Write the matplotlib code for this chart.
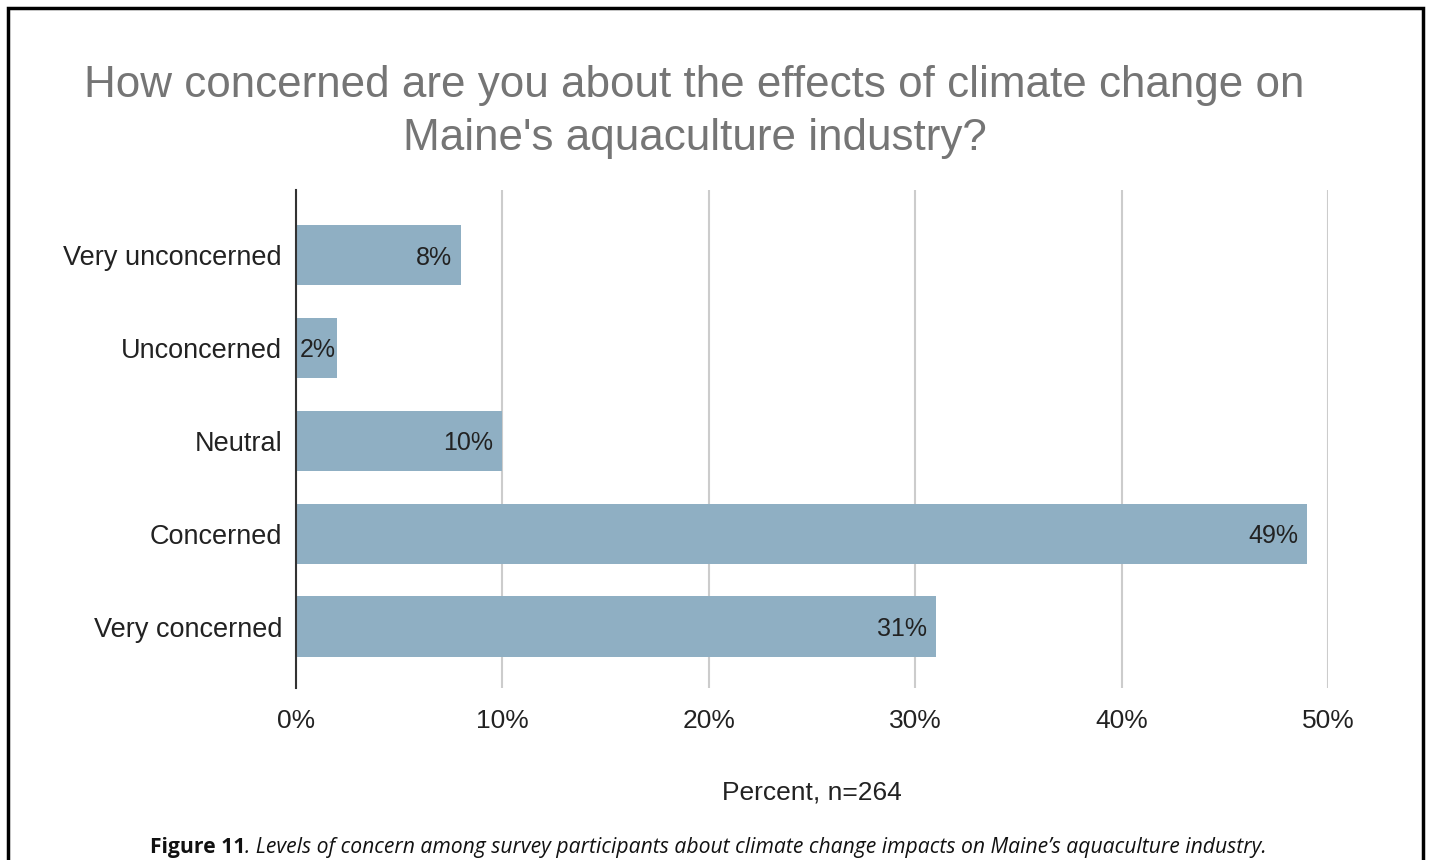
import matplotlib
matplotlib.use('Agg')
import matplotlib.pyplot as plt
from matplotlib.patches import Rectangle

# data
categories = ['Very unconcerned', 'Unconcerned', 'Neutral', 'Concerned', 'Very concerned']
percents = [8, 2, 10, 49, 31]
xticks = [0, 10, 20, 30, 40, 50]

plt.rcParams['font.family'] = ['Liberation Sans', 'DejaVu Sans']

fig = plt.figure(figsize=(14.29, 8.6), dpi=100)
ax = fig.add_axes([0.2071, 0.2, 0.7222, 0.579])

y = list(range(len(categories)))
ax.barh(y, percents, height=0.65, color='#8fafc3', zorder=3)
for yi, v in zip(y, percents):
    if v < 5:
        ax.text(0.2, yi, f'{v}%', ha='left', va='center_baseline', fontsize=18, color='#222222', zorder=4)
    else:
        ax.text(v - 0.45, yi, f'{v}%', ha='right', va='center_baseline', fontsize=18, color='#222222', zorder=4)

ax.set_xlim(0, 50)
ax.set_ylim(4.66, -0.70)
ax.set_yticks(y)
ax.set_yticklabels(categories, fontsize=19.5, color='#222222')
ax.set_xticks(xticks)
ax.set_xticklabels([f'{t}%' for t in xticks], fontsize=19, color='#222222')
ax.tick_params(axis='y', length=0, pad=10)
ax.tick_params(axis='x', length=0, pad=15)
ax.grid(axis='x', color='#cccccc', linewidth=1.5, zorder=0)
for s in ['top', 'right', 'bottom']:
    ax.spines[s].set_visible(False)
ax.spines['left'].set_color('#333333')
ax.spines['left'].set_linewidth(1.5)
ax.spines['left'].set_zorder(5)
ax.set_xlabel('Percent, n=264', fontsize=19, color='#222222', labelpad=34)

fig.text(0.486, 0.870, "How concerned are you about the effects of climate change on\nMaine's aquaculture industry?",
         ha='center', va='center', fontsize=31.7, color='#757575', linespacing=1.36)

# caption
fig.canvas.draw()
r = fig.canvas.get_renderer()
t1 = fig.text(150 / 1429, 1 - 847 / 860, 'Figure 11', fontsize=15.2, fontweight='bold',
              family=['Open Sans', 'DejaVu Sans'], color='#111111', va='center', ha='left')
bb = t1.get_window_extent(renderer=r)
fig.text(bb.x1 / 1429, 1 - 847 / 860, '. Levels of concern among survey participants about climate change impacts on Maine\u2019s aquaculture industry.',
         fontsize=15.2, style='italic', family=['Open Sans', 'DejaVu Sans'], color='#111111', va='center', ha='left')

# frame around figure
fig.patches.append(Rectangle((8 / 1429, -0.05), (1423 - 8) / 1429, 1.05 - 8 / 860,
                             transform=fig.transFigure, fill=False, edgecolor='black', linewidth=2.5))

fig.savefig('out.png', dpi=100)
